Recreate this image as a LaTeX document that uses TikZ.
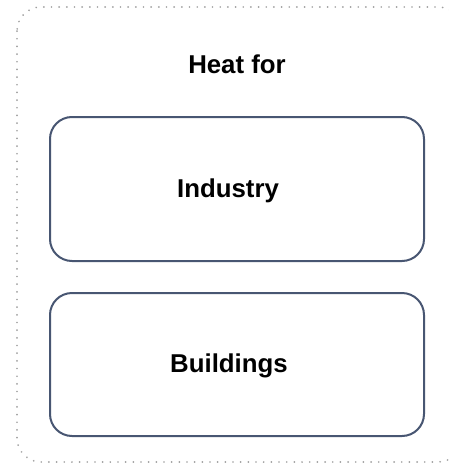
\documentclass[tikz,border=0pt]{standalone}
\usepackage{fontspec}
\setmainfont{Liberation Sans}
\begin{document}
\begin{tikzpicture}[x=1pt,y=-1pt,
  framebox/.style={draw=black!38, line width=1.8pt, dash pattern=on 0.1pt off 7.57pt, line cap=round, rounded corners=24pt},
  sector/.style={draw=sectorline, line width=2pt, rounded corners=22pt, rectangle, inner sep=0pt},
  lbl/.style={font=\fontsize{25.8}{30}\selectfont\bfseries, inner sep=0pt, anchor=base}]
\definecolor{sectorline}{RGB}{72,86,114}
\useasboundingbox (0,0) rectangle (449,463);
% outer dotted group frame (extends past the page edge)
\draw[framebox] (17,7) rectangle (462,462);
\node[lbl] (title) at (237,73) {Heat for};
% the two sector boxes
\node[sector, minimum width=374pt, minimum height=144pt] (industry) at (237,189) {};
\node[sector, minimum width=374pt, minimum height=143pt] (buildings) at (237,364.5) {};
\node[lbl] (industrytxt) at (228,197) {Industry};
\node[lbl] (buildingstxt) at (229,372) {Buildings};
\end{tikzpicture}
\end{document}
